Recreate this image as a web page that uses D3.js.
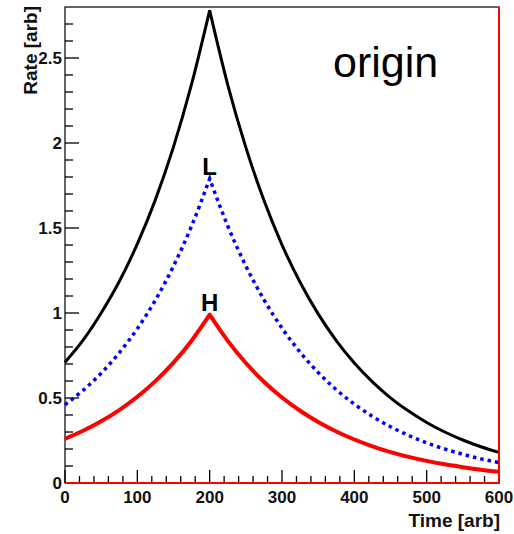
<!DOCTYPE html>
<html>
<head>
<meta charset="utf-8">
<script src="https://cdn.jsdelivr.net/npm/d3@7"></script>
<style>
  body { margin: 0; background: #fff; }
  svg text { font-family: "Liberation Sans", Arial, sans-serif; }
</style>
</head>
<body>
<svg id="chart" width="514" height="534"></svg>
<script>
const width = 514;
const height = 534;

// time samples (arb)
const times = [0, 25, 50, 75, 100, 125, 150, 175, 200, 225, 250, 275, 300,
    325, 350, 375, 400, 425, 450, 475, 500, 525, 550, 575, 600];

// origin curve (black)
const originRate = [0.71, 0.84, 1.0, 1.185, 1.406, 1.667, 1.977, 2.346, 2.78,
    2.342, 1.974, 1.663, 1.401, 1.181, 0.995, 0.838, 0.706, 0.595, 0.501,
    0.423, 0.356, 0.30, 0.253, 0.213, 0.18];

// L curve (blue dotted)
const lowRate = [0.46, 0.545, 0.646, 0.766, 0.908, 1.076, 1.276, 1.512, 1.79,
    1.512, 1.277, 1.079, 0.911, 0.77, 0.65, 0.549, 0.464, 0.392, 0.331,
    0.28, 0.236, 0.2, 0.169, 0.142, 0.12];

// H curve (red)
const highRate = [0.26, 0.307, 0.363, 0.429, 0.507, 0.599, 0.708, 0.837, 0.99,
    0.836, 0.706, 0.596, 0.503, 0.425, 0.359, 0.303, 0.256, 0.216, 0.182,
    0.154, 0.13, 0.11, 0.093, 0.078, 0.066];

const xTicks = [0, 100, 200, 300, 400, 500, 600];
const yTicks = [0, 0.5, 1, 1.5, 2, 2.5];

const plotL = 65, plotR = 499, plotT = 7, plotB = 483;

const svg = d3.select("#chart");

const x = d3.scaleLinear().domain([0, 600]).range([plotL, plotR]);
const y = d3.scaleLinear().domain([0, 2.8]).range([plotB, plotT]);

// frame
svg.append("rect")
    .attr("x", plotL)
    .attr("y", plotT)
    .attr("width", plotR - plotL)
    .attr("height", plotB - plotT)
    .attr("fill", "none")
    .attr("stroke", "black")
    .attr("stroke-width", 1.2);

// ticks inside the frame (ROOT style)
const xMinor = d3.range(0, 601, 20);
svg.append("g")
    .selectAll("line")
    .data(xMinor)
    .join("line")
    .attr("x1", d => x(d))
    .attr("x2", d => x(d))
    .attr("y1", plotB)
    .attr("y2", d => plotB - (d % 100 === 0 ? 13 : 7))
    .attr("stroke", "black")
    .attr("stroke-width", 1.3);

const yMinor = d3.range(0, 28).map(i => i / 10);
svg.append("g")
    .selectAll("line")
    .data(yMinor)
    .join("line")
    .attr("x1", plotL)
    .attr("x2", d => plotL + (Math.round(d * 10) % 5 === 0 ? 14 : 8))
    .attr("y1", d => y(d))
    .attr("y2", d => y(d))
    .attr("stroke", "black")
    .attr("stroke-width", 1.3);

// tick labels
svg.append("g")
    .selectAll("text")
    .data(xTicks)
    .join("text")
    .attr("x", d => x(d))
    .attr("y", plotB + 20)
    .attr("text-anchor", "middle")
    .attr("font-size", 17)
    .attr("font-weight", "bold")
    .attr("fill", "#111")
    .text(d => d);

svg.append("g")
    .selectAll("text")
    .data(yTicks)
    .join("text")
    .attr("x", plotL - 3)
    .attr("y", d => y(d) + 6)
    .attr("text-anchor", "end")
    .attr("font-size", 17)
    .attr("font-weight", "bold")
    .attr("fill", "#111")
    .text(d => d);

// axis titles
svg.append("text")
    .attr("x", plotR + 1)
    .attr("y", 527)
    .attr("text-anchor", "end")
    .attr("font-size", 19)
    .attr("font-weight", "bold")
    .attr("fill", "#111")
    .text("Time [arb]");

svg.append("text")
    .attr("transform", `translate(37,6) rotate(-90)`)
    .attr("text-anchor", "end")
    .attr("font-size", 19)
    .attr("font-weight", "bold")
    .attr("fill", "#111")
    .text("Rate [arb]");

// curves: rising and falling halves drawn separately so the peak stays sharp
const peak = times.indexOf(200);
const line = d3.line()
    .x(d => x(d[0]))
    .y(d => y(d[1]))
    .curve(d3.curveMonotoneX);
const curvePath = (vals) => {
    const pts = times.map((t, i) => [t, vals[i]]);
    return line(pts.slice(0, peak + 1)) + line(pts.slice(peak)).replace(/^M/, "L");
};

svg.append("path")
    .attr("d", curvePath(highRate))
    .attr("fill", "none")
    .attr("stroke", "#ff0000")
    .attr("stroke-width", 4)
    .attr("stroke-linejoin", "round");

svg.append("path")
    .attr("d", curvePath(lowRate))
    .attr("fill", "none")
    .attr("stroke", "#0000ff")
    .attr("stroke-width", 3.5)
    .attr("stroke-dasharray", "3.5,4");

svg.append("path")
    .attr("d", curvePath(originRate))
    .attr("fill", "none")
    .attr("stroke", "black")
    .attr("stroke-width", 3);

// red border on bottom and right
svg.append("path")
    .attr("d", `M${plotL},${plotB}H${plotR}V${plotT}`)
    .attr("fill", "none")
    .attr("stroke", "#ff0000")
    .attr("stroke-width", 2);

// labels
svg.append("text")
    .attr("x", x(200))
    .attr("y", 175)
    .attr("text-anchor", "middle")
    .attr("font-size", 24)
    .attr("font-weight", "bold")
    .text("L");

svg.append("text")
    .attr("x", x(200))
    .attr("y", 311)
    .attr("text-anchor", "middle")
    .attr("font-size", 24)
    .attr("font-weight", "bold")
    .text("H");

svg.append("text")
    .attr("x", 333)
    .attr("y", 77)
    .attr("font-size", 43)
    .text("origin");
</script>
</body>
</html>
